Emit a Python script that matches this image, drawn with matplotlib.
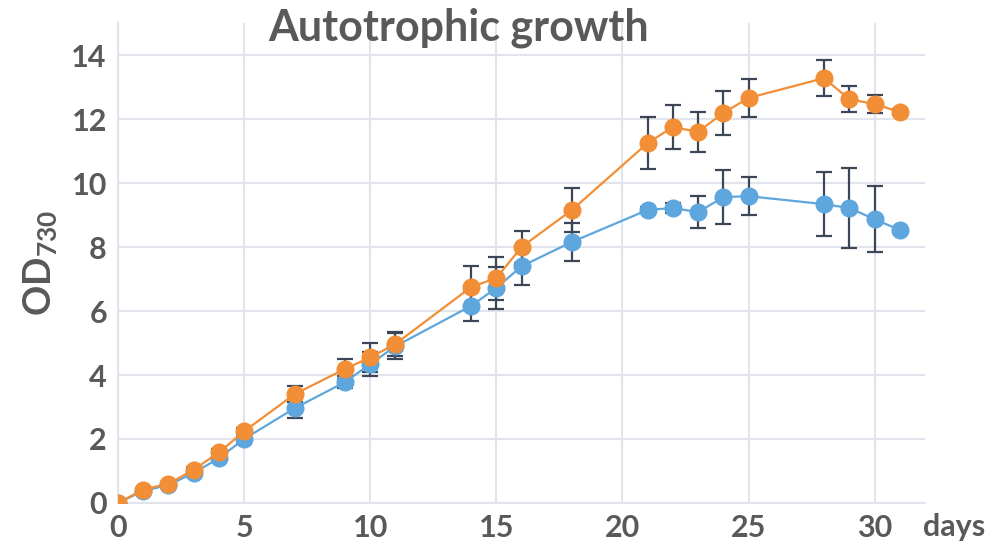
import matplotlib
matplotlib.use("Agg")
import matplotlib.pyplot as plt

# OD730 readings, two strains, mean +- sd
days = [0, 1, 2, 3, 4, 5, 7, 9, 10, 11, 14, 15, 16, 18, 21, 22, 23, 24, 25, 28, 29, 30, 31]
blue = [0.0, 0.38, 0.56, 0.94, 1.4, 2.0, 2.96, 3.78, 4.34, 4.9, 6.16, 6.72, 7.4, 8.16,
        9.16, 9.22, 9.09, 9.56, 9.59, 9.34, 9.22, 8.87, 8.53]
blue_err = [0.0, 0.05, 0.08, 0.1, 0.1, 0.15, 0.3, 0.2, 0.37, 0.4, 0.46, 0.66, 0.6, 0.6,
            0.1, 0.15, 0.5, 0.85, 0.6, 1.0, 1.25, 1.03, 0.08]
orange = [0.0, 0.42, 0.6, 1.04, 1.58, 2.24, 3.4, 4.19, 4.55, 4.97, 6.75, 7.03, 8.0, 9.16,
          11.25, 11.75, 11.6, 12.19, 12.66, 13.28, 12.62, 12.47, 12.22]
orange_err = [0.0, 0.05, 0.05, 0.08, 0.1, 0.1, 0.25, 0.3, 0.45, 0.37, 0.67, 0.67, 0.5, 0.69,
              0.8, 0.7, 0.62, 0.7, 0.6, 0.57, 0.4, 0.28, 0.08]

xticks = [0, 5, 10, 15, 20, 25, 30]
yticks = [0, 2, 4, 6, 8, 10, 12, 14]

TEXT = "#595959"
GRID = "#E1E4EA"
ERR = "#3C4656"
BLUE = "#5EA6DE"
ORANGE = "#F28E35"

plt.rcParams["font.family"] = ["Lato", "DejaVu Sans"]
plt.rcParams["font.weight"] = "bold"
plt.rcParams["mathtext.fontset"] = "custom"
plt.rcParams["mathtext.rm"] = "Lato:bold"
plt.rcParams["mathtext.bf"] = "Lato:bold"

fig = plt.figure(figsize=(9.92, 5.5), dpi=100)
ax = fig.add_axes([0.119, 0.0855, 0.8135, 0.8725])

for y, err in ((blue, blue_err), (orange, orange_err)):
    ax.errorbar(days, y, yerr=err, fmt="none", ecolor=ERR, elinewidth=1.6,
                capsize=6, capthick=1.6, zorder=3)
ax.plot(days, blue, color=BLUE, lw=1.6, marker="o", ms=12, zorder=4)
ax.plot(days, orange, color=ORANGE, lw=1.6, marker="o", ms=12, zorder=5)

ax.set_xlim(0, 32)
ax.set_ylim(0, 15)
ax.set_xticks(xticks)
ax.set_yticks(yticks)
ax.grid(color=GRID, lw=1.5, zorder=0)
ax.set_axisbelow(True)
for side in ("top", "right"):
    ax.spines[side].set_visible(False)
for side in ("left", "bottom"):
    ax.spines[side].set_color(GRID)
    ax.spines[side].set_linewidth(1.5)
ax.tick_params(length=0, labelsize=22, labelcolor=TEXT, pad=8)
for lab in ax.get_xticklabels() + ax.get_yticklabels():
    lab.set_fontweight("bold")

ax.set_ylabel("OD$_{\\mathrm{730}}$", fontsize=27, color=TEXT, fontweight="bold", labelpad=8)
fig.text(0.962, 0.042, "days", fontsize=22, color=TEXT, fontweight="bold", ha="center", va="center")
fig.text(0.462, 0.95, "Autotrophic growth", fontsize=31, color=TEXT, fontweight="bold",
         ha="center", va="center")

fig.savefig("out.png", dpi=100)
